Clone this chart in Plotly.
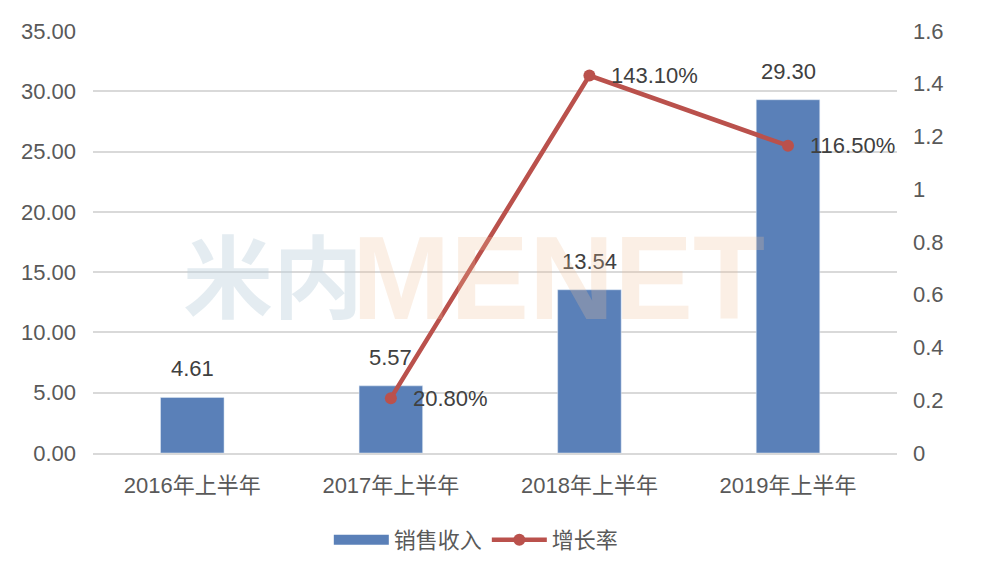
import plotly.graph_objects as go

categories = ["2016年上半年", "2017年上半年", "2018年上半年", "2019年上半年"]
sales = [4.61, 5.57, 13.54, 29.30]
growth_cat = ["2017年上半年", "2018年上半年", "2019年上半年"]
growth = [0.208, 1.431, 1.165]
growth_labels = ["20.80%", "143.10%", "116.50%"]

font_family = "Liberation Sans, Noto Sans CJK SC, sans-serif"
txt_color = "#595959"
lbl_color = "#404040"
bar_color = "#5A80B8"
line_color = "#BA514C"

fig = go.Figure()
fig.add_trace(go.Bar(
    x=categories, y=sales, name="销售收入",
    marker=dict(color=bar_color),
    width=0.32, showlegend=False,
))
# legend proxy for the bar series (wide rectangle swatch)
fig.add_trace(go.Scatter(
    x=[None], y=[None], name="销售收入", mode="lines",
    line=dict(color=bar_color, width=16), showlegend=True,
))
fig.add_trace(go.Scatter(
    x=growth_cat, y=growth, name="增长率", yaxis="y2",
    mode="lines+markers",
    line=dict(color=line_color, width=4.5),
    marker=dict(color=line_color, size=12),
    cliponaxis=False,
))

# data labels
for c, v in zip(categories, sales):
    fig.add_annotation(x=c, y=v, xref="x", yref="y", text=f"{v:.2f}",
                       showarrow=False, yanchor="bottom", yshift=14,
                       font=dict(size=22, color=lbl_color, family=font_family))
for c, v, t in zip(growth_cat, growth, growth_labels):
    fig.add_annotation(x=c, y=v, xref="x", yref="y2", text=t,
                       showarrow=False, xanchor="left", yanchor="middle", xshift=20,
                       font=dict(size=22, color=lbl_color, family=font_family))

# watermark
fig.add_annotation(text="<b>米内</b>", xref="paper", yref="paper", x=0.110, y=0.43,
                   xanchor="left", yanchor="middle", showarrow=False,
                   font=dict(size=90, color="rgba(190,210,222,0.42)",
                             family="Noto Sans CJK SC", weight=900))
fig.add_annotation(text="<b>MENET</b>", xref="paper", yref="paper", x=0.320, y=0.415,
                   xanchor="left", yanchor="middle", showarrow=False,
                   font=dict(size=118, color="rgba(240,190,150,0.25)", family="Liberation Sans"))

fig.update_layout(
    width=988, height=550,
    margin=dict(l=85, r=99, t=23, b=105, autoexpand=False),
    paper_bgcolor="white", plot_bgcolor="white",
    font=dict(family=font_family, color=txt_color, size=22),
    bargap=0.68,
    showlegend=True,
    legend=dict(orientation="h", xref="container", yref="container",
                x=0.474, xanchor="center", y=0.033, yanchor="middle",
                font=dict(size=22, color=txt_color), traceorder="normal",
                itemwidth=55, tracegroupgap=0),
    xaxis=dict(showline=True, linecolor="#D9D9D9", linewidth=1.5, ticks="",
               tickfont=dict(size=22, color=txt_color), showgrid=False,
               ticklabelstandoff=12),
    yaxis=dict(range=[0, 35], dtick=5, tickformat=".2f", showgrid=True,
               gridcolor="#D9D9D9", gridwidth=1.5, zeroline=False,
               tickfont=dict(size=22, color=txt_color), ticklabelstandoff=16),
    yaxis2=dict(range=[0, 1.6], dtick=0.2, overlaying="y", side="right",
                showgrid=False, zeroline=False,
                tickfont=dict(size=22, color=txt_color), ticklabelstandoff=15),
)

fig.write_html("out.html")
